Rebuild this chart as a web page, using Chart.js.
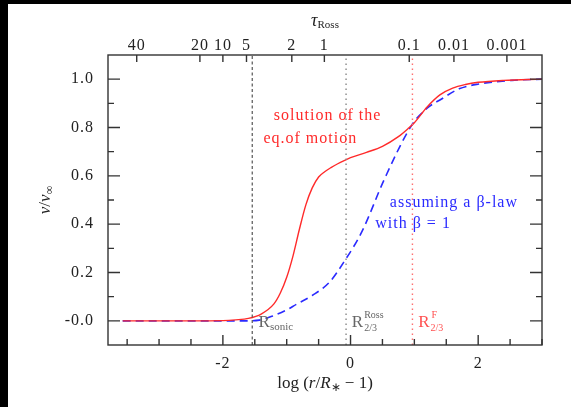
<!DOCTYPE html>
<html>
<head>
<meta charset="utf-8">
<script src="https://cdn.jsdelivr.net/npm/chart.js@4.4.0/dist/chart.umd.min.js"></script>
<style>
  html, body { margin: 0; padding: 0; background: #000; }
  #wrap { position: absolute; left: 8px; top: 4px; width: 563px; height: 403px; background: #fff; }
</style>
</head>
<body>
<div id="wrap"><canvas id="wind" width="563" height="403"></canvas></div>
<script>
// solution of the equation of motion (red)
const xSol = [-3.57, -3.0, -2.5, -2.0, -1.8, -1.6, -1.4, -1.2, -1.1, -1.0, -0.9, -0.8, -0.7, -0.6, -0.5, -0.4, -0.3, -0.2, -0.1, 0.0, 0.25, 0.5, 0.75, 0.9, 1.0, 1.2, 1.4, 1.6, 1.8, 2.0, 2.4, 3.0];
const vSol = [0, 0, 0, 0.001, 0.004, 0.01, 0.028, 0.07, 0.115, 0.18, 0.27, 0.38, 0.48, 0.55, 0.595, 0.618, 0.635, 0.65, 0.663, 0.675, 0.697, 0.722, 0.762, 0.795, 0.82, 0.885, 0.935, 0.963, 0.978, 0.987, 0.995, 1.0];

// beta-law with beta = 1 (blue, dashed)
const xBeta = [-3.57, -2.0, -1.66, -1.43, -1.22, -1.0, -0.85, -0.6, -0.33, -0.1, 0.18, 0.53, 0.96, 1.2, 1.42, 1.7, 2.01, 2.53, 3.0];
const vBeta = [0, 0, 0, 0.003, 0.02, 0.045, 0.068, 0.105, 0.16, 0.245, 0.37, 0.586, 0.81, 0.88, 0.917, 0.96, 0.98, 0.995, 1.0];

// top axis: tau_Ross at positions on the log(r/R*-1) scale
const tauPos = [-3.35, -2.36, -2.0, -1.63, -0.92, -0.41, 0.92, 1.62, 2.45];
const tauLabels = ["40", "20", "10", "5", "2", "1", "0.1", "0.01", "0.001"];

const xTicks = [-2, 0, 2];
const yTicks = [0, 0.2, 0.4, 0.6, 0.8, 1.0];

// marker radii
const rSonic = -1.54, rRoss = -0.07, rFlux = 0.97;

const X_MIN = -3.8, X_MAX = 3.0, Y_MIN = -0.1, Y_MAX = 1.1;
const SERIF = "'Liberation Serif', 'Times New Roman', serif";
const RED = '#ff2a2a', BLUE = '#2a2aff', GREY = '#555';

const pts = (xs, ys) => xs.map((x, i) => ({x: x, y: ys[i]}));
const vline = x => [{x: x, y: Y_MIN}, {x: x, y: Y_MAX}];

function fixed(w, h) {
  return function (scale) {
    if (w != null) scale.width = w;
    if (h != null) scale.height = h;
  };
}

function partsText(ctx, parts, cx, cy, align) {
  let w = 0;
  parts.forEach(p => { ctx.font = p.f; w += ctx.measureText(p.t).width; });
  let x = align === 'left' ? cx : cx - w / 2;
  parts.forEach(p => {
    ctx.font = p.f;
    ctx.fillText(p.t, x, cy + (p.dy || 0));
    x += ctx.measureText(p.t).width;
  });
}

const spacing = {
  id: 'spacing',
  beforeDraw(chart) { chart.ctx.letterSpacing = '1px'; }
};

const frame = {
  id: 'frame',
  afterDatasetsDraw(chart) {
    const {ctx, chartArea: a, scales} = chart;
    const sx = scales.x, sy = scales.y;
    ctx.save();
    ctx.strokeStyle = '#333';
    ctx.lineWidth = 1.4;
    ctx.beginPath();
    // bottom ticks, every 0.5, long at the labelled ones
    for (let v = -3.5; v <= X_MAX + 1e-9; v += 0.5) {
      const px = sx.getPixelForValue(v);
      const len = xTicks.includes(Math.round(v * 10) / 10) ? 10 : 6;
      ctx.moveTo(px, a.bottom); ctx.lineTo(px, a.bottom - len);
    }
    // top ticks at tau positions
    tauPos.forEach(v => {
      const px = sx.getPixelForValue(v);
      ctx.moveTo(px, a.top); ctx.lineTo(px, a.top + 7);
    });
    // left/right ticks every 0.1
    for (let k = 0; k <= 10; k++) {
      const v = k / 10;
      const py = sy.getPixelForValue(v);
      const len = k % 2 === 0 ? 12 : 6;
      ctx.moveTo(a.left, py); ctx.lineTo(a.left + len, py);
      ctx.moveTo(a.right, py); ctx.lineTo(a.right - len, py);
    }
    ctx.stroke();
    ctx.strokeRect(a.left, a.top, a.right - a.left, a.bottom - a.top);
    ctx.restore();
  },
  afterDraw(chart) {
    const {ctx, chartArea: a, scales} = chart;
    const sx = scales.x, sy = scales.y;
    const cx = (a.left + a.right) / 2;
    ctx.save();
    ctx.letterSpacing = '0px';
    ctx.fillStyle = '#222';
    ctx.textBaseline = 'middle';
    const n = s => s + 'px ' + SERIF, it = s => 'italic ' + s + 'px ' + SERIF;

    // axis titles
    partsText(ctx, [
      {t: 'log (', f: n(17)}, {t: 'r', f: it(17)}, {t: '/', f: n(17)},
      {t: 'R', f: it(17)}, {t: '∗', f: n(12), dy: 4}, {t: ' − 1)', f: n(17)}
    ], cx, a.bottom + 39);
    partsText(ctx, [{t: 'τ', f: it(18)}, {t: 'Ross', f: n(11), dy: 4}], cx, 17);
    ctx.save();
    ctx.translate(38, (a.top + a.bottom) / 2);
    ctx.rotate(-Math.PI / 2);
    partsText(ctx, [
      {t: 'v', f: it(17)}, {t: '/', f: n(17)}, {t: 'v', f: it(17)}, {t: '∞', f: n(12), dy: 4}
    ], 0, 0);
    ctx.restore();

    // curve annotations
    ctx.letterSpacing = '1px';
    ctx.textAlign = 'center';
    ctx.font = n(16);
    ctx.fillStyle = RED;
    ctx.fillText('solution of the', sx.getPixelForValue(-0.36), sy.getPixelForValue(0.849));
    ctx.fillText('eq.of motion', sx.getPixelForValue(-0.63), sy.getPixelForValue(0.752));
    ctx.fillStyle = BLUE;
    ctx.fillText('assuming a β-law', sx.getPixelForValue(1.62), sy.getPixelForValue(0.49));
    ctx.fillText('with β = 1', sx.getPixelForValue(0.98), sy.getPixelForValue(0.40));

    // radius labels
    ctx.textAlign = 'left';
    ctx.textBaseline = 'alphabetic';
    ctx.letterSpacing = '0px';
    const base = sy.getPixelForValue(-0.026);
    ctx.fillStyle = '#666';
    partsText(ctx, [{t: 'R', f: n(17)}, {t: 'sonic', f: n(11), dy: 3}],
      sx.getPixelForValue(-1.44), base, 'left');
    let x0 = sx.getPixelForValue(0.02);
    ctx.font = n(17); ctx.fillText('R', x0, base);
    let w = ctx.measureText('R').width;
    ctx.font = n(10); ctx.fillText('Ross', x0 + w + 1, base - 9); ctx.fillText('2/3', x0 + w + 1, base + 4);
    ctx.fillStyle = '#ff5050';
    x0 = sx.getPixelForValue(1.06);
    ctx.font = n(17); ctx.fillText('R', x0, base);
    ctx.font = n(10); ctx.fillText('F', x0 + w + 2, base - 9); ctx.fillText('2/3', x0 + w + 1, base + 4);
    ctx.restore();
  }
};

new Chart(document.getElementById('wind'), {
  type: 'line',
  data: {
    datasets: [
      {data: vline(rSonic), borderColor: GREY, borderWidth: 1.2, borderDash: [3, 2.5], pointRadius: 0},
      {data: vline(rRoss), borderColor: '#888', borderWidth: 1.4, borderDash: [1.5, 3.5], pointRadius: 0},
      {data: vline(rFlux), borderColor: '#ff7070', borderWidth: 1.4, borderDash: [1.5, 3.5], pointRadius: 0},
      {label: 'solution', data: pts(xSol, vSol), borderColor: RED, borderWidth: 1.4,
       pointRadius: 0, cubicInterpolationMode: 'monotone'},
      {label: 'beta', data: pts(xBeta, vBeta), borderColor: BLUE, borderWidth: 1.6, borderDash: [8, 5],
       pointRadius: 0, cubicInterpolationMode: 'monotone'}
    ]
  },
  options: {
    responsive: false,
    animation: false,
    events: [],
    layout: {padding: 0},
    plugins: {legend: {display: false}, tooltip: {enabled: false}},
    scales: {
      x: {
        type: 'linear', position: 'bottom', min: X_MIN, max: X_MAX,
        afterBuildTicks: s => { s.ticks = xTicks.map(v => ({value: v})); },
        afterFit: fixed(null, 62),
        grid: {display: false, drawTicks: false}, border: {display: false},
        ticks: {color: '#222', padding: 9, font: {family: SERIF, size: 16}, maxRotation: 0,
                callback: v => String(v)}
      },
      x2: {
        type: 'linear', position: 'top', min: X_MIN, max: X_MAX,
        afterBuildTicks: s => { s.ticks = tauPos.map(v => ({value: v})); },
        afterFit: fixed(null, 51),
        grid: {display: false, drawTicks: false}, border: {display: false},
        ticks: {color: '#222', padding: 0, font: {family: SERIF, size: 16}, maxRotation: 0, autoSkip: false,
                callback: (v, i) => tauLabels[i]}
      },
      y: {
        type: 'linear', position: 'left', min: Y_MIN, max: Y_MAX,
        afterBuildTicks: s => { s.ticks = yTicks.map(v => ({value: v})); },
        afterFit: fixed(100, null),
        grid: {display: false, drawTicks: false}, border: {display: false},
        ticks: {color: '#222', padding: 14, font: {family: SERIF, size: 16},
                callback: v => (v === 0 ? '-0.0' : v.toFixed(1))}
      },
      y2: {
        type: 'linear', position: 'right', min: Y_MIN, max: Y_MAX,
        afterFit: fixed(29, null),
        grid: {display: false, drawTicks: false}, border: {display: false},
        ticks: {display: false}
      }
    }
  },
  plugins: [spacing, frame]
});
</script>
</body>
</html>
